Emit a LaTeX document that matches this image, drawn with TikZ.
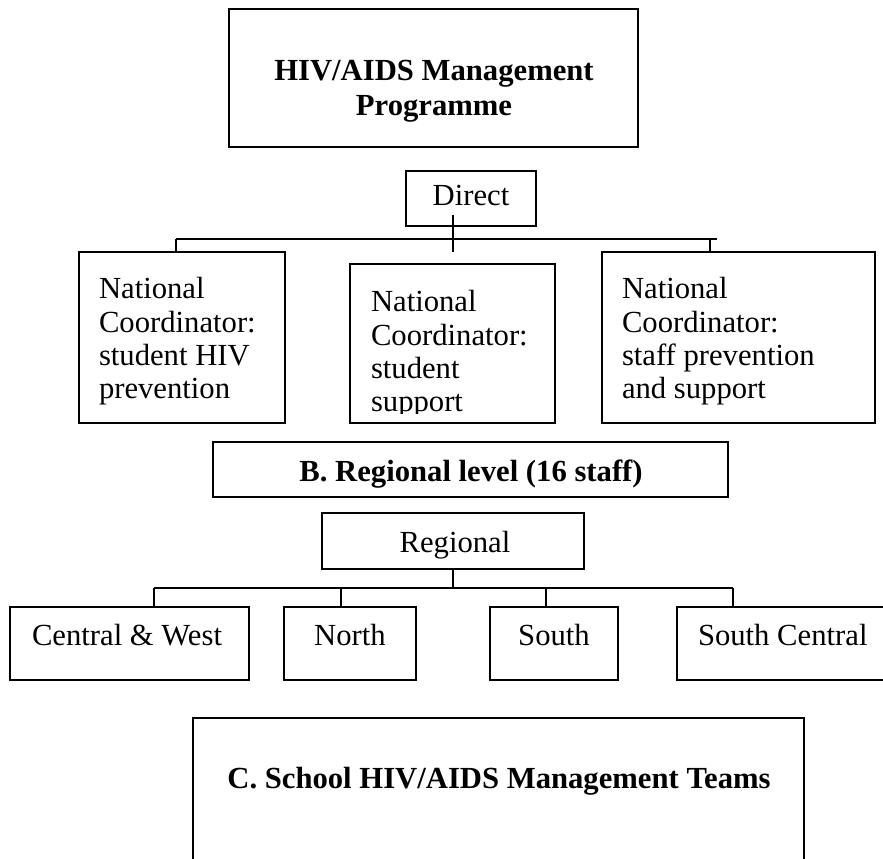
\documentclass[tikz,border=0pt]{standalone}
\usepackage{fontspec}
\setmainfont{Liberation Serif}
\newcommand\firststrut{\rule{0pt}{20pt}}
\newcommand\bx[5]{\node[box, minimum width={(#4-#2)*0.75pt}, minimum height={(#5-#3)*0.75pt}] (#1) at ({(#2+#4)/2},{(#3+#5)/2}) {};}
\begin{document}
\begin{tikzpicture}[x=0.75pt,y=-0.75pt,
  box/.style={draw=black, line width=1.4pt, rectangle, inner sep=0pt, outer sep=0pt},
  txt/.style={inner sep=0pt, outer sep=0pt, font=\fontsize{23}{25}\selectfont},
  btxt/.style={inner sep=0pt, outer sep=0pt, font=\fontsize{23}{26.25}\selectfont\bfseries},
  conn/.style={draw=black, line width=1.4pt}]
\clip (0,0) rectangle (883,859);
\fill[white] (0,0) rectangle (883,859);

% Level A
\bx{top}{229}{9}{638}{147}
\node[btxt, align=center, anchor=north] (toptxt) at (434,{81-26.667}) {\firststrut HIV/AIDS Management\\Programme};

\bx{direct}{406}{171}{536}{226}
\node[txt, anchor=base] (directtxt) at (471,206) {Direct};

\bx{c1}{79}{252}{285}{423}
\bx{c2}{350}{264}{555}{423}
\bx{c3}{602}{252}{875}{423}
\node[txt, align=left, anchor=north west] (c1txt) at (99,{299-26.667}) {\firststrut National\\Coordinator:\\student HIV\\prevention};
\begin{scope}
\clip (350,264) rectangle (555,414);
\node[txt, align=left, anchor=north west] (c2txt) at (371,{312-26.667}) {\firststrut National\\Coordinator:\\student\\support};
\end{scope}
\node[txt, align=left, anchor=north west] (c3txt) at (622,{299-26.667}) {\firststrut National\\Coordinator:\\staff prevention\\and support};

\coordinate (dIn) at (453,215);
\coordinate (dEnd) at (453,252);
\coordinate (busL) at (176,239);
\coordinate (busM) at (710,239);
\coordinate (busR) at (717,239);
\draw[conn] (dIn) -- (dEnd);
\draw[conn] (busL) -- (busR);
\draw[conn] (busL) -- (busL |- c1.north);
\draw[conn] (busM) -- (busM |- c3.north);

% Level B
\bx{blevel}{213}{442}{728}{497}
\node[btxt, anchor=base] (btxt) at (471,482) {B. Regional level (16 staff)};

\bx{reg}{322}{513}{584}{569}
\node[txt, anchor=base] (regtxt) at (455,553) {Regional};

\bx{cw}{10}{607}{249}{680}
\bx{no}{284}{607}{416}{680}
\bx{so}{490}{607}{618}{680}
\bx{sc}{677}{607}{900}{680}
\node[txt, anchor=base west] (cwtxt) at (32,645) {Central \& West};
\node[txt, anchor=base] (notxt) at (350,645) {North};
\node[txt, anchor=base] (sotxt) at (554,645) {South};
\node[txt, anchor=base west] (sctxt) at (698,645) {South Central};

\coordinate (rbL) at (154,588);
\coordinate (rb2) at (341,588);
\coordinate (rb3) at (546,588);
\coordinate (rbR) at (733,588);
\draw[conn] (reg.south) -- (reg.south |- rbL);
\draw[conn] (rbL) -- (rbR);
\draw[conn] (rbL) -- (rbL |- cw.north);
\draw[conn] (rb2) -- (rb2 |- no.north);
\draw[conn] (rb3) -- (rb3 |- so.north);
\draw[conn] (rbR) -- (rbR |- sc.north);

% Level C
\bx{cteam}{193}{718}{804}{900}
\node[btxt, anchor=base] (ctxt) at (499,788) {C. School HIV/AIDS Management Teams};
\end{tikzpicture}
\end{document}
